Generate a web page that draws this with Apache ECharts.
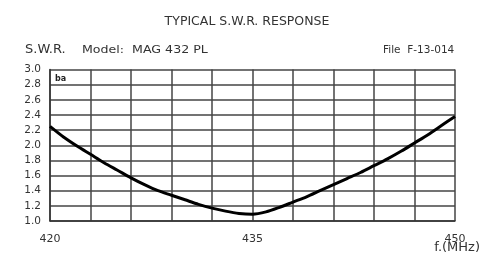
<!DOCTYPE html>
<html><head><meta charset="utf-8">
<script src="https://cdn.jsdelivr.net/npm/echarts@6/dist/echarts.min.js"></script>
<style>html,body{margin:0;padding:0;background:#fff}#c{width:487px;height:264px}</style>
</head><body><div id="c"></div>
<script>
const freqs = [420,421,422,423,424,425,426,427,428,429,430,431,432,433,434,435,436,437,438,439,440,441,442,443,444,445,446,447,448,449,450];
const swr   = [2.25,2.11,1.99,1.88,1.77,1.67,1.57,1.48,1.40,1.34,1.28,1.22,1.17,1.13,1.10,1.09,1.12,1.18,1.25,1.32,1.40,1.48,1.56,1.64,1.73,1.82,1.92,2.03,2.14,2.26,2.38];
const xTickLabels = [420, 435, 450];
const titleText = 'TYPICAL S.W.R. RESPONSE';
const yName = 'S.W.R.';
const modelText = 'Model:  MAG 432 PL';
const fileText = 'File  F-13-014';
const xName = 'f.(MHz)';

const FONT = 'DejaVu Sans';
const chart = echarts.init(document.getElementById('c'), null, {renderer:'canvas'});
chart.setOption({
  animation:false,
  backgroundColor:'#fff',
  grid:{left:50, right:32, top:69.5, bottom:43, containLabel:false},
  xAxis:{
    type:'value', min:420, max:450, interval:3,
    axisLine:{show:true, lineStyle:{color:'#333', width:1.5}},
    axisTick:{show:false},
    splitLine:{show:true, lineStyle:{color:'#444', width:1.5}},
    axisLabel:{margin:13, fontFamily:FONT, fontSize:11, color:'#333',
      formatter:v=> xTickLabels.indexOf(Math.round(v))>=0 ? String(Math.round(v)) : ''}
  },
  yAxis:{
    type:'value', min:1, max:3, interval:0.2,
    axisLine:{show:true, lineStyle:{color:'#333', width:1.5}},
    axisTick:{show:false},
    splitLine:{show:true, lineStyle:{color:'#444', width:1.5}},
    axisLabel:{margin:9, fontFamily:FONT, fontSize:10.5, color:'#333', formatter:v=>v.toFixed(1)}
  },
  series:[{
    type:'line', data:freqs.map((f,i)=>[f,swr[i]]), smooth:0.3, showSymbol:false,
    lineStyle:{color:'#000', width:3}
  }],
  graphic:[
    {type:'text', x:247, y:21.5, style:{text:titleText, font:'12.5px '+FONT, fill:'#333', align:'center', verticalAlign:'middle'}},
    {type:'text', x:25, y:50, style:{text:yName, font:'13px '+FONT, fill:'#333', verticalAlign:'middle'}},
    {type:'text', x:82, y:50, scaleX:1.2, style:{text:modelText, font:'10.5px '+FONT, fill:'#333', verticalAlign:'middle'}},
    {type:'text', x:383, y:50, style:{text:fileText, font:'10.5px '+FONT, fill:'#333', verticalAlign:'middle'}},
    {type:'text', x:480, y:248, style:{text:xName, font:'13px '+FONT, fill:'#333', align:'right', verticalAlign:'middle'}},
    {type:'text', x:55, y:78.5, style:{text:'ba', font:'bold 8px '+FONT, fill:'#222', verticalAlign:'middle'}}
  ]
});
</script></body></html>
